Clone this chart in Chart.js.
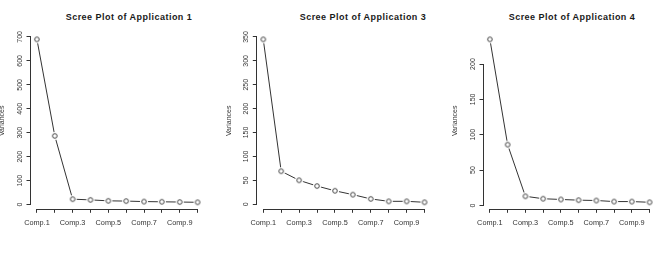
<!DOCTYPE html>
<html>
<head>
<meta charset="utf-8">
<script src="https://cdn.jsdelivr.net/npm/chart.js@4.4.1/dist/chart.umd.min.js"></script>
<style>
  html, body { margin: 0; padding: 0; background: #fff; overflow: hidden; width: 658px; height: 258px; }
  .panel { position: absolute; top: 0; height: 258px; }
  .title { position: absolute; top: 11px; transform: translateX(-50%); white-space: nowrap; letter-spacing: 0.48px;
           font: bold 9px "Liberation Sans", Arial, sans-serif; color: #1a1a1a; line-height: 12px; }
</style>
</head>
<body>
<div class="title" style="left:129px">Scree Plot of Application 1</div>
<div class="title" style="left:363px">Scree Plot of Application 3</div>
<div class="title" style="left:572px">Scree Plot of Application 4</div>
<div class="panel" style="left:-3px;width:212px"><canvas id="app1"></canvas></div>
<div class="panel" style="left:222px;width:214px"><canvas id="app3"></canvas></div>
<div class="panel" style="left:449px;width:212px"><canvas id="app4"></canvas></div>
<script>
const components = ['Comp.1', 'Comp.2', 'Comp.3', 'Comp.4', 'Comp.5', 'Comp.6', 'Comp.7', 'Comp.8', 'Comp.9', 'Comp.10'];
const app1Variances = [690, 287, 23, 20, 16, 15, 13, 12, 11, 10];
const app3Variances = [345, 69, 50, 38, 28, 20, 11, 6, 6, 4];
const app4Variances = [235, 86, 13, 9.5, 8.5, 7.5, 7, 5.5, 5.5, 4.5];
const app1Ticks = [0, 100, 200, 300, 400, 500, 600, 700];
const app3Ticks = [0, 50, 100, 150, 200, 250, 300, 350];
const app4Ticks = [0, 50, 100, 150, 200];

const ink = '#333';
const font = { family: '"Liberation Sans", Arial, sans-serif', size: 7 };

// open circle with a white halo so the line stops short of it, like type="b" in R
function ringMarker() {
  const c = document.createElement('canvas');
  c.width = c.height = 10;
  const g = c.getContext('2d');
  g.fillStyle = '#fff';
  g.beginPath(); g.arc(5, 5, 4.1, 0, Math.PI * 2); g.fill();
  g.strokeStyle = ink; g.lineWidth = 0.9;
  g.beginPath(); g.arc(5, 5, 2.3, 0, Math.PI * 2); g.stroke();
  return c;
}

// R draws axis lines only between the first and last tick
const rAxes = {
  id: 'rAxes',
  afterDraw(chart) {
    const { ctx, chartArea, scales: { x, y } } = chart;
    ctx.save();
    ctx.strokeStyle = ink;
    ctx.lineWidth = 1;
    ctx.beginPath();
    const by = Math.round(chartArea.bottom) + 0.5;
    ctx.moveTo(x.getPixelForValue(1), by);
    ctx.lineTo(x.getPixelForValue(components.length), by);
    const lx = Math.round(chartArea.left) - 0.5;
    ctx.moveTo(lx, y.getPixelForValue(y.ticks[0].value));
    ctx.lineTo(lx, y.getPixelForValue(y.ticks[y.ticks.length - 1].value));
    ctx.stroke();
    ctx.restore();
  }
};

function makeScree(id, values, yTicks, padLeft, padRight) {
  const lo = Math.min(...values), hi = Math.max(...values);
  const ext = 0.04 * (hi - lo);
  const n = components.length;
  new Chart(document.getElementById(id), {
    type: 'line',
    data: {
      datasets: [{
        data: values.map((v, i) => ({ x: i + 1, y: v })),
        borderColor: ink,
        borderWidth: 1,
        tension: 0,
        pointStyle: ringMarker(),
        pointRadius: 4
      }]
    },
    options: {
      responsive: true,
      maintainAspectRatio: false,
      animation: false,
      events: [],
      layout: { padding: { left: padLeft, right: padRight, top: 32.8, bottom: 29.2 } },
      plugins: { legend: { display: false }, tooltip: { enabled: false } },
      scales: {
        x: {
          type: 'linear',
          min: 1 - 0.04 * (n - 1),
          max: n + 0.04 * (n - 1),
          afterBuildTicks: s => { s.ticks = components.map((_, i) => ({ value: i + 1 })); },
          afterFit: s => { s.height = 20; },
          grid: { drawOnChartArea: false, drawTicks: true, tickLength: 4, color: ink, lineWidth: 1 },
          border: { display: false },
          ticks: {
            autoSkip: false, maxRotation: 0, padding: 6, color: ink,
            font: { family: font.family, size: 7.3 },
            callback: v => (v - 1) % 2 === 0 ? components[v - 1] : ''
          }
        },
        y: {
          min: lo - ext,
          max: hi + ext,
          afterBuildTicks: s => { s.ticks = yTicks.map(v => ({ value: v })); },
          afterFit: s => { s.width = 32.2; },
          grid: { drawOnChartArea: false, drawTicks: true, tickLength: 4, color: ink, lineWidth: 1 },
          border: { display: false },
          ticks: { minRotation: 90, maxRotation: 90, crossAlign: 'center', padding: 1, color: ink, font },
          title: { display: true, text: 'Variances', color: ink, font, padding: 0 }
        }
      }
    },
    plugins: [rAxes]
  });
}

makeScree('app1', app1Variances, app1Ticks, 1.3, 2.5);
makeScree('app3', app3Variances, app3Ticks, 2.6, 3.5);
makeScree('app4', app4Variances, app4Ticks, 2.3, 1.5);
</script>
</body>
</html>
